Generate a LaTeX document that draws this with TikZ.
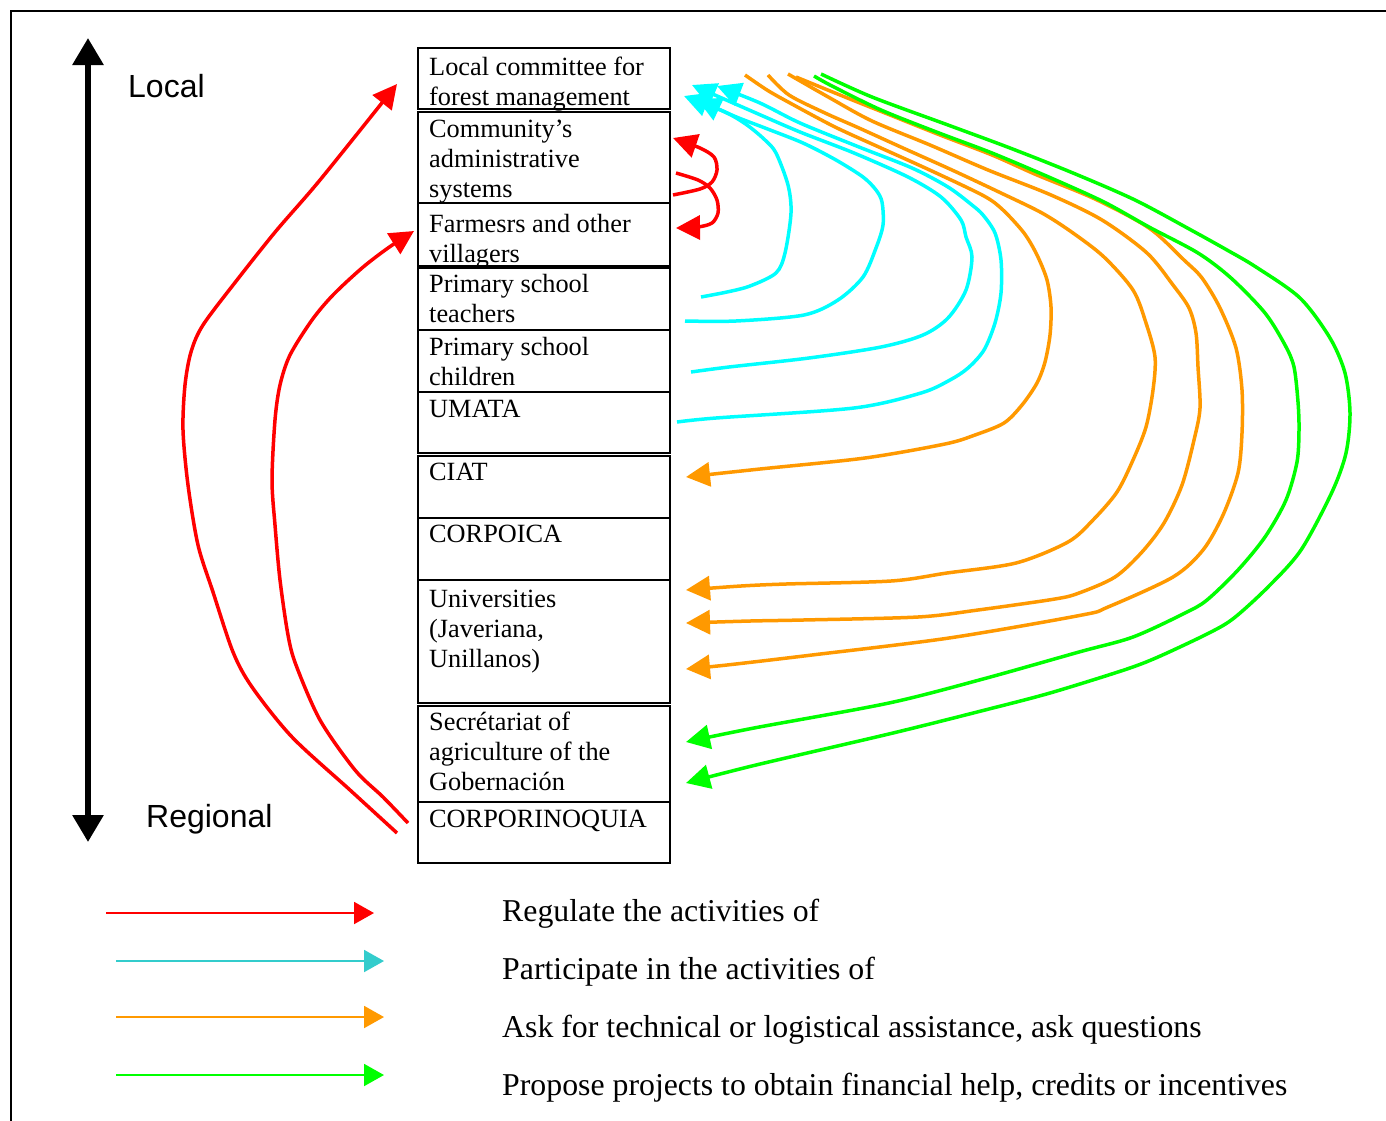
\documentclass[tikz,border=0pt]{standalone}
\usepackage{fontspec}
\setmainfont{Liberation Serif}
\newfontfamily\arialf{Liberation Sans}
\usetikzlibrary{arrows.meta}
\definecolor{cRed}{RGB}{255,0,0}
\definecolor{cCyan}{RGB}{0,255,255}
\definecolor{cOrange}{RGB}{255,153,0}
\definecolor{cGreen}{RGB}{0,255,0}
\definecolor{cTeal}{RGB}{51,204,204}
\begin{document}
\begin{tikzpicture}[x=1pt,y=-1pt,
  boxnode/.style={draw=black, line width=2pt, minimum width=252pt, anchor=north west, inner sep=0pt, outer sep=0pt},
  boxtext/.style={anchor=north west, inner sep=0pt, align=left, font=\fontsize{26.3}{30}\selectfont},
  flow/.style={line width=3.5pt, line join=round, -{Triangle[length=24pt,width=24pt]}},
  legarrow/.style={line width=2pt, -{Triangle[length=20pt,width=22pt]}},
  legtext/.style={anchor=base west, inner sep=0pt, font=\fontsize{31.8}{36}\selectfont},
  scaletext/.style={anchor=base west, inner sep=0pt, font=\arialf\fontsize{32}{38}\selectfont},
  sm/.style={smooth, tension=0.5}
]
\useasboundingbox (0,0) rectangle (1386,1120);
\fill[white] (0,0) rectangle (1386,1120);
% frame
\draw[line width=2pt] (11,1130) -- (11,11) -- (1400,11);

% boxes
\node[boxnode, minimum height=61pt] (b1) at (418,48) {};
\node[boxnode, minimum height=91pt] (b2) at (418,112) {};
\node[boxnode, minimum height=63pt] (b3) at (418,203) {};
\node[boxnode, minimum height=62pt] (b4) at (418,268) {};
\node[boxnode, minimum height=62pt] (b5) at (418,330) {};
\node[boxnode, minimum height=61pt] (b6) at (418,392) {};
\node[boxnode, minimum height=62pt] (b7) at (418,456) {};
\node[boxnode, minimum height=62pt] (b8) at (418,518) {};
\node[boxnode, minimum height=123pt] (b9) at (418,580) {};
\node[boxnode, minimum height=96pt] (b10) at (418,706) {};
\node[boxnode, minimum height=61pt] (b11) at (418,802) {};

\node[boxtext] (t1) at (429,54) {\strut Local committee for\\forest management};
\node[boxtext] (t2) at (429,116) {\strut Community’s\\administrative\\systems};
\node[boxtext] (t3) at (429,211) {\strut Farmesrs and other\\villagers};
\node[boxtext] (t4) at (429,271) {\strut Primary school\\teachers};
\node[boxtext] (t5) at (429,334) {\strut Primary school\\children};
\node[boxtext] (t6) at (429,396) {\strut UMATA};
\node[boxtext] (t7) at (429,459) {\strut CIAT};
\node[boxtext] (t8) at (429,521) {\strut CORPOICA};
\node[boxtext] (t9) at (429,586) {\strut Universities\\(Javeriana,\\Unillanos)};
\node[boxtext] (t10) at (429,709) {\strut Secrétariat of\\agriculture of the\\Gobernación};
\node[boxtext] (t11) at (429,806) {\strut CORPORINOQUIA};

% scale arrow
\coordinate (sTop) at (88,38);
\coordinate (sBot) at (88,842);
\draw[line width=6pt, {Triangle[length=27pt,width=30pt]}-{Triangle[length=27pt,width=30pt]}] (sTop) -- (sBot);
\node[scaletext] (loc) at (128,97) {Local};
\node[scaletext] (reg) at (146,827) {Regional};

% red
\coordinate (r1s) at (397,833); \coordinate (r1e) at (397,84);
\draw[flow, cRed] plot[sm] coordinates {(r1s) (350,790) (292,737) (252,687) (233,652) (213,592) (198,545) (188,485) (183,430) (185,385) (191,352) (203,325) (237,280) (276,231) (320,180) (r1e)};
\coordinate (r2s) at (408,823); \coordinate (r2e) at (414,231);
\draw[flow, cRed] plot[sm] coordinates {(r2s) (383,797) (355,770) (320,720) (296,665) (288,635) (280,580) (275,525) (272,480) (275,420) (280,385) (290,355) (312,320) (333,295) (362,268) (388,248) (r2e)};
\coordinate (u1s) at (673,195); \coordinate (u1e) at (673,138);
\draw[flow, cRed] plot[sm] coordinates {(u1s) (700,189) (712,182) (717,170) (714,157) (700,148) (u1e)};
\coordinate (u2s) at (676,173); \coordinate (u2e) at (676,228);
\draw[flow, cRed] plot[sm] coordinates {(u2s) (698,180) (710,188) (717,200) (718,213) (712,223) (698,227) (u2e)};

% cyan
\coordinate (c1s) at (701,297); \coordinate (c1e) at (684,96);
\draw[flow, cCyan] plot[sm] coordinates {(c1s) (727,292) (750,286) (776,273) (785,253) (791,213) (788,185) (776,153) (765,140) (747,125) (725,112) (c1e)};
\coordinate (c2s) at (685,321); \coordinate (c2e) at (697,99);
\draw[flow, cCyan] plot[sm] coordinates {(c2s) (736,321) (804,315) (838,300) (863,277) (876,248) (883,225) (882,202) (876,190) (863,177) (836,160) (803,143) (765,128) (734,116) (c2e)};
\coordinate (c3s) at (691,372); \coordinate (c3e) at (692,85);
\draw[flow, cCyan] plot[sm] coordinates {(c3s) (729,367) (809,358) (881,347) (923,335) (948,318) (966,290) (972,257) (966,237) (961,220) (941,197) (908,177) (854,153) (800,132) (756,113) (c3e)};
\coordinate (c4s) at (677,422); \coordinate (c4e) at (717,86);
\draw[flow, cCyan] plot[sm] coordinates {(c4s) (716,418) (854,408) (921,393) (950,380) (968,368) (984,350) (995,323) (1001,293) (1001,260) (995,233) (983,215) (972,205) (948,187) (912,168) (859,147) (800,123) (760,103) (c4e)};

% orange
\coordinate (o1s) at (745,75); \coordinate (o1e) at (686,477);
\draw[flow, cOrange] plot[sm] coordinates {(o1s) (767,90) (790,103) (835,127) (881,148) (934,172) (984,196) (1003,210) (1024,233) (1037,255) (1047,280) (1051,307) (1050,335) (1045,362) (1037,383) (1022,405) (1004,423) (975,435) (945,444) (865,458) (760,469) (o1e)};
\coordinate (o2s) at (768,75); \coordinate (o2e) at (686,590);
\draw[flow, cOrange] plot[sm] coordinates {(o2s) (789,95) (825,113) (859,128) (903,148) (952,170) (1001,193) (1042,213) (1073,233) (1104,257) (1133,290) (1146,323) (1155,357) (1153,390) (1146,427) (1133,460) (1117,492) (1093,520) (1068,542) (1016,563) (947,573) (891,581) (786,584) (741,586) (o2e)};
\coordinate (o3s) at (788,74); \coordinate (o3e) at (686,623);
\draw[flow, cOrange] plot[sm] coordinates {(o3s) (830,98) (872,121) (930,145) (988,170) (1051,195) (1102,220) (1147,253) (1173,285) (1189,308) (1196,333) (1198,367) (1200,408) (1194,440) (1182,485) (1164,523) (1142,552) (1115,577) (1079,593) (1055,599) (978,610) (918,617) (803,620) (750,621) (o3e)};
\coordinate (o4s) at (796,77); \coordinate (o4e) at (686,669);
\draw[flow, cOrange] plot[sm] coordinates {(o4s) (840,95) (890,115) (940,135) (992,155) (1037,175) (1095,199) (1149,228) (1184,260) (1202,278) (1220,308) (1236,348) (1242,390) (1242,433) (1238,473) (1223,515) (1203,550) (1173,577) (1108,607) (1082,615) (949,638) (812,655) (727,665) (o4e)};

% green
\coordinate (g1s) at (814,76); \coordinate (g1e) at (686,742);
\draw[flow, cGreen] plot[sm] coordinates {(g1s) (832,86) (881,110) (939,133) (992,153) (1051,178) (1104,202) (1149,227) (1198,253) (1231,278) (1265,313) (1285,345) (1294,367) (1298,402) (1299,430) (1297,462) (1286,500) (1265,537) (1238,570) (1207,600) (1185,613) (1133,637) (1079,652) (983,679) (889,703) (754,728) (g1e)};
\coordinate (g2s) at (821,74); \coordinate (g2e) at (686,783);
\draw[flow, cGreen] plot[sm] coordinates {(g2s) (872,97) (948,125) (1010,148) (1073,173) (1135,200) (1191,230) (1227,250) (1256,267) (1300,298) (1330,338) (1345,373) (1350,413) (1346,453) (1332,492) (1301,550) (1268,587) (1234,618) (1209,633) (1158,657) (1124,670) (1050,693) (985,710) (893,733) (756,765) (g2e)};

% legend
\coordinate (l1a) at (106,913); \coordinate (l1b) at (374,913);
\coordinate (l2a) at (116,961); \coordinate (l2b) at (384,961);
\coordinate (l3a) at (116,1017); \coordinate (l3b) at (384,1017);
\coordinate (l4a) at (116,1075); \coordinate (l4b) at (384,1075);
\draw[legarrow, cRed] (l1a) -- (l1b);
\draw[legarrow, cTeal] (l2a) -- (l2b);
\draw[legarrow, cOrange] (l3a) -- (l3b);
\draw[legarrow, cGreen] (l4a) -- (l4b);
\node[legtext] (lt1) at (502,921) {Regulate the activities of};
\node[legtext] (lt2) at (502,979) {Participate in the activities of};
\node[legtext] (lt3) at (502,1037) {Ask for technical or logistical assistance, ask questions};
\node[legtext] (lt4) at (502,1095) {Propose projects to obtain financial help, credits or incentives};
\end{tikzpicture}
\end{document}
